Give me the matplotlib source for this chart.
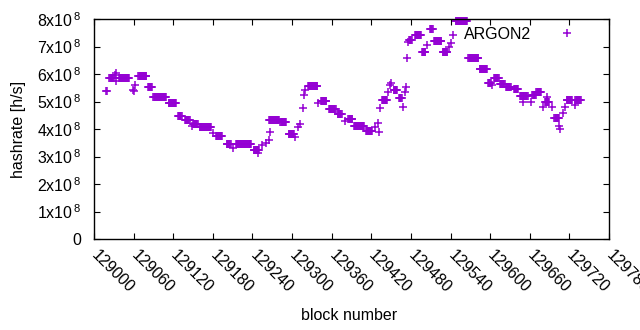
import numpy as np
import matplotlib
matplotlib.use("Agg")
import matplotlib.pyplot as plt
from matplotlib.transforms import ScaledTranslation

plt.rcParams['font.family'] = ['Liberation Sans', 'DejaVu Sans']
plt.rcParams['mathtext.fontset'] = 'custom'
plt.rcParams['mathtext.rm'] = 'Liberation Sans'
plt.rcParams['mathtext.default'] = 'regular'

# runs of constant hashrate: first block, last block, value (x1e8 h/s)
run_start = [129018, 129023, 129038, 129067, 129082, 129090, 129113, 129127, 129138,
             129150, 129160, 129185, 129201, 129215, 129242, 129265, 129282, 129295,
             129324, 129344, 129356, 129369, 129385, 129394, 129412, 129436, 129454,
             129462, 129477, 129486, 129497, 129509, 129515, 129528, 129548, 129567,
             129584, 129597, 129606, 129615, 129624, 129636, 129645, 129664, 129670,
             129683, 129697, 129716, 129729]
run_end = [129019, 129030, 129053, 129079, 129088, 129109, 129124, 129133, 129145,
           129157, 129177, 129194, 129207, 129238, 129250, 129280, 129291, 129303,
           129338, 129352, 129366, 129375, 129391, 129409, 129421, 129444, 129459,
           129466, 129481, 129495, 129502, 129513, 129526, 129535, 129565, 129582,
           129595, 129601, 129613, 129622, 129631, 129642, 129657, 129669, 129677,
           129689, 129704, 129724, 129737]
run_value = [5.38, 5.84, 5.87, 5.92, 5.53, 5.18, 4.93, 4.49, 4.31,
             4.18, 4.09, 3.74, 3.44, 3.47, 3.22, 4.31, 4.24, 3.82,
             5.56, 5.02, 4.71, 4.55, 4.35, 4.11, 3.91, 5.07, 5.42,
             5.11, 7.24, 7.42, 6.80, 7.62, 7.20, 6.80, 7.93, 6.58,
             6.20, 5.69, 5.87, 5.62, 5.51, 5.45, 5.20, 5.22, 5.33,
             5.00, 4.40, 5.04, 5.07]

# isolated blocks
single_block = [129032, 129033, 129034, 129059, 129061, 129062, 129149, 129180, 129211,
                129254, 129249, 129260, 129265, 129267, 129305, 129309, 129312, 129316,
                129318, 129320, 129340, 129380, 129426, 129430, 129431, 129433, 129445,
                129448, 129450, 129468, 129471, 129473, 129474, 129476, 129504, 129537,
                129541, 129544, 129603, 129650, 129662, 129680, 129686, 129694, 129705,
                129706, 129710, 129713, 129728]
single_value = [5.95, 6.03, 5.75, 5.42, 5.38, 5.60, 4.10, 3.87, 3.31,
                3.42, 3.13, 3.49, 3.60, 3.89, 3.71, 4.07, 4.18, 4.76,
                5.24, 5.42, 4.95, 4.29, 4.07, 4.22, 3.89, 4.76, 5.35,
                5.60, 5.67, 4.80, 5.35, 5.53, 6.60, 7.17, 7.05, 6.98,
                7.13, 7.42, 5.60, 4.98, 4.98, 4.80, 5.16, 4.80, 4.10,
                4.00, 4.58, 4.80, 4.87]

xticks = list(range(129000, 129781, 60))
yticks = [0, 1, 2, 3, 4, 5, 6, 7, 8]
ytick_labels = ['0'] + ['%dx10$^{\\,8}$' % k for k in yticks[1:]]

blocks = np.concatenate([np.arange(s, e + 1) for s, e in zip(run_start, run_end)] + [np.array(single_block)])
values = np.concatenate([np.full(e - s + 1, v) for s, e, v in zip(run_start, run_end, run_value)] + [np.array(single_value)]) * 1e8

FS = 11.5
fig = plt.figure(figsize=(6.4, 3.3), dpi=100)
ax = fig.add_axes([94/640, 1 - 239/330, (609-94)/640, (239-19)/330])
color = '#9400D3'
ax.plot(blocks, values, linestyle='none', marker='+', markersize=6.0,
        markeredgewidth=1.1, color=color, label='ARGON2', clip_on=False)

ax.set_xlim(129000, 129780)
ax.set_ylim(0, 8e8)
ax.set_xticks(xticks)
ax.set_xticklabels([str(t) for t in xticks], rotation=-45, ha='left', va='center',
                   rotation_mode='anchor')
shift = ScaledTranslation(4/100, 0, fig.dpi_scale_trans)
for lab in ax.get_xticklabels():
    lab.set_transform(lab.get_transform() + shift)
ax.set_yticks([t * 1e8 for t in yticks])
ax.set_yticklabels(ytick_labels)
ax.tick_params(direction='in', length=4, width=0.8, top=True, right=True,
               labelsize=FS, colors='black')
ax.tick_params(axis='x', pad=10)
ax.tick_params(axis='y', pad=9)
for s in ax.spines.values():
    s.set_linewidth(1.0)

ax.set_xlabel('block number', fontsize=FS)
ax.xaxis.set_label_coords((349-94)/515, (239-308)/220)
ax.set_ylabel('hashrate [h/s]', fontsize=FS)
ax.yaxis.set_label_coords((26-94)/515, 0.5)

leg = ax.legend(loc='upper right', frameon=False, markerfirst=False, fontsize=FS,
                handlelength=4.25, handletextpad=0.15, borderaxespad=0.2,
                borderpad=0.3)

fig.savefig('out.png', dpi=100)
